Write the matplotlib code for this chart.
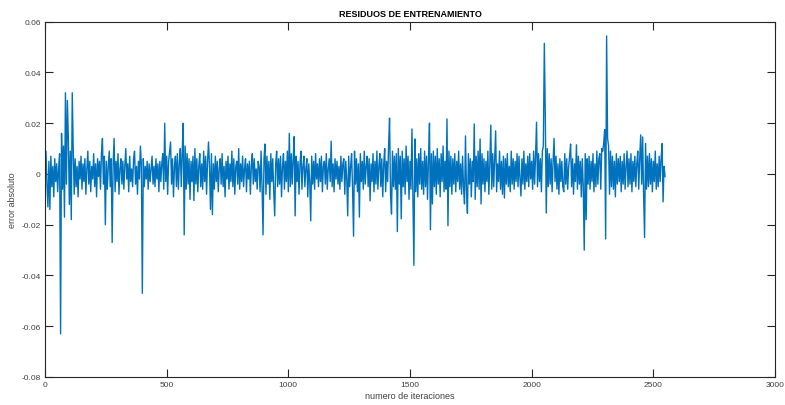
import numpy as np
import matplotlib
matplotlib.use("Agg")
import matplotlib.pyplot as plt

plt.rcParams['font.family'] = ['Liberation Sans', 'DejaVu Sans']

# Residuals sampled every 4 iterations, in units of 1e-3
step_iter = 4
residuals_milli = [
    2, 9, -4, -13, 5, -14, 7, -5, 3, -9, 6, -3, 4, -7, 2, 8, -63, 16, -6, 11,
    -17, 32, -4, 29, 14, -12, 9, -18, 32, 10, -8, 6, -5, 3, -9, 5, -2, 7, -6, 4,
    -3, 6, -8, 2, 9, -4, 5, -7, 3, -2, 8, -5, 4, -9, 6, -1, 5, -6, 8, 14,
    -4, 7, -20, 5, -6, 3, 9, -5, 6, -27, 4, 14, -7, 5, -3, 8, -8, 2, 6, -4,
    5, -6, 3, 10, -2, 4, -7, 7, -3, 2, -5, 6, 9, -4, 3, -8, 5, -2, 11, 4,
    -47, 6, -5, 3, -2, 5, -6, 4, -3, 2, 7, -4, 3, -5, 6, -2, 4, -7, 5, -3,
    4, 8, -6, 20, -3, 7, -8, 5, 9, 12.6, -4, 6, -9, 3, 7, -5, 8, -6, 4, 10,
    -5, 9, 20, -24, 11, -6, 8, -4, 6, -10, 5, -3, 7, -10.5, 10, -4, 6, -7, 3, 8,
    -5, 4, -6, 9, -3, 7, -8, 5, 12.6, 3, -14, 8, -16, 4, -6, 7, -3, 5, -7, 2,
    6, -4, 8, -5, 3, -9, 5, -2, 7, -6, 4, -3, 9, -5, 6, -8, 3, 5, -4, 10,
    -6, 4, -3, 7, -5, 2, 6, -7, 4, -2, 5, -8, 3, 8, -4, 6, -3, 2, -6, 5,
    3, -7, 9, -5, -24, 6, 11.8, -8, 7, -4, 5, -10, 8, -3, 6, -7, -16.5, 4, 9, -5,
    6, -4, 7, -9, 3, 8, -6, 5, -3, 9, -7, 16, -5, 8, -4, 6, 14.7, -16.5, 7, -3,
    5, -8, 4, 9, -6, 3, 7, -5, 2, 6, -9, 4, -3, -18.5, 7, -4, 5, -6, 8, -2,
    4, -5, 6, -3, 7, -7, 3, 5, -4, 8, -6, 2, 6, -3, 12.9, -5, 4, -7, 6, -2,
    5, -4, 3, -6, 7, -3, 4, 6, -8, 5, -2, -16.5, 7, -5, 3, 8, -6, -24.5, 9, -4,
    6, -7, 4, -17, 8, -3, 5, -6, 9, -4, 3, 7, -5, 6, -10.6, 4, -3, 8, -7, 5,
    -4, 9, -6, 3, 8, -5, 6, -9, 4, 10, -7, 5, -3, 11, 22, -8, -15.8, 9, -5, 7,
    -6, 8, -22.7, 10, -4, 7, -17.7, 9, -5, 6, -8, 11, -3, 7, -10, 5, -6, 17.7, -9, -36,
    13.8, -7, 6, -9, 8, -4, 10, -6, 5, -8, 9, -5, 7, -10, 6, 20, -22, 8, -11.8, 9,
    -5, 7, -8, 10, -4, 6, -9, 8, -3, 11, -7, 5, -6, 21.7, -20.4, 9, -5, 7, -8, 6,
    -4, 8, -7, 5, -3, 9, -6, 4, -8, 7, -5, -11.8, 15, -6, -15.5, 8, -4, 6, -9, 5,
    -3, 19.7, -10, 7, -5, 9, -6, 13.8, -11.8, 8, -4, 6, -7, 5, -3, 9, -8, 4, 19.3, -6,
    8, -5, 6, 17, -7, 4, -3, 9, -6, 5, -8, 7, -9.5, 6, -4, 8, -5, 3, -7, 9,
    -4, 6, -6, 5, -3, 8, -5, 7, -2, -8.7, 6, -4, 9, -6, 4, -3, 7, -5, 8, -2,
    5, -6, 9, -4, 7, 20.4, -5, 8, -3, 6, -7, 9, 11, 51.5, 23, -15.4, 10, -5, 8, -4,
    6, -7, 5, 14, -3, 7, -6, 4, -8, 6, -3, 5, -5, -7, 8, -4, 6, -6, 3, 7,
    11.8, -5, 6, -8, 4, -3, 11.5, -6, 7, -4, 5, -9, 6, -5, -30, 8, -18, 6, -4, 7,
    -6, 5, -3, 8, -7, 4, -5, 9, -4, 6, 8, -6, 10, 9, 12, 17.5, -25.6, 54.4, 14, 11,
    -8, 9, -5, 7, -6, 5, -9, 8, -4, 6, -3, 7, -7, 5, -4, 8, -6, 3, 9, -5,
    6, -4, 8, -7, 5, -3, 7, -5, 4, 9, -6, 6, 15.4, -4, 14.6, -8, -25, 12, -6, 7,
    -5, 8, -4, 6, -7, 5, -3, 9, -6, 4, -5, 7, -3, 6, 12, -11, 3, -1,
]

x_ticks = [0, 500, 1000, 1500, 2000, 2500, 3000]
y_ticks = [-0.08, -0.06, -0.04, -0.02, 0, 0.02, 0.04, 0.06]
y_tick_labels = ['-0.08', '-0.06', '-0.04', '-0.02', '0', '0.02', '0.04', '0.06']
title = 'RESIDUOS DE ENTRENAMIENTO'
xlabel = 'numero de iteraciones'
ylabel = 'error absoluto'

residuals = np.array(residuals_milli) * 1e-3
iterations = np.arange(len(residuals)) * step_iter

fig = plt.figure(figsize=(7.85, 4.06), dpi=100)
ax = fig.add_axes([45/785, (406-378)/406, (775-45)/785, (378-22.7)/406])
ax.plot(iterations, residuals, color='#0072BD', linewidth=1.0)

ax.set_xlim(0, 3000)
ax.set_ylim(-0.08, 0.06)
ax.set_xticks(x_ticks)
ax.set_xticklabels([str(t) for t in x_ticks])
ax.set_yticks(y_ticks)
ax.set_yticklabels(y_tick_labels)

dark = '#262626'
for s in ax.spines.values():
    s.set_color(dark)
    s.set_linewidth(0.8)
ax.tick_params(direction='in', length=5.5, width=0.8, colors=dark,
               labelsize=6, top=True, right=True, labelcolor='#404040', pad=3)

ax.set_title(title, fontsize=6.5, fontweight='bold', color='black', pad=4)
ax.set_xlabel(xlabel, fontsize=6.5, color='#404040', labelpad=2)
ax.set_ylabel(ylabel, fontsize=6.5, color='#404040', labelpad=3)

fig.savefig('out.png', dpi=100)
